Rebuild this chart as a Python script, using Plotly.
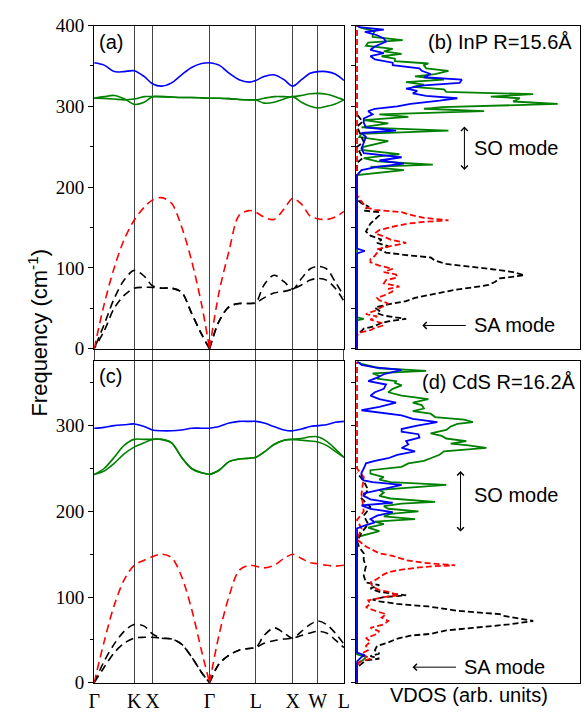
import plotly.graph_objects as go

W, H = 587, 717

# high-symmetry path (relative distance along the path)
K_PTS = [0, 0.160, 0.233, 0.462, 0.647, 0.795, 0.895, 1.0]
K_LABELS = ["Γ", "K", "X", "Γ", "L", "X", "W", "L"]
K_GRID = [0, 0.04, 0.08, 0.12, 0.16, 0.2, 0.233, 0.27, 0.31, 0.35, 0.39, 0.43, 0.462,
          0.50, 0.54, 0.58, 0.62, 0.647, 0.68, 0.72, 0.76, 0.795, 0.83, 0.865, 0.895,
          0.93, 0.965, 1.0]

# (a) InP dispersion, cm^-1
A_BLUE = [354, 351, 343, 343, 344, 337, 328, 325, 329, 339, 348, 353, 354,
          351, 341, 333, 330, 332, 337, 339, 333, 325, 333, 341, 343, 343, 340, 332]
A_GREEN1 = [310, 312, 313.5, 309.5, 302.5, 305, 312, 312, 311.5, 311, 311, 310.5, 310,
            310, 309.5, 308.5, 308, 308, 310, 312, 312, 312, 313.5, 315.5, 316, 315, 312, 308]
A_GREEN2 = [310, 309.8, 309, 308, 309, 312, 312, 312, 311.5, 311, 311, 310.5, 310,
            310, 309.5, 308.5, 308, 308, 304, 305, 309, 312, 305, 300, 298, 300, 303, 308]
A_RED = [0, 55, 100, 135, 159, 175, 184, 187, 180, 151, 109, 55, 0,
         70, 121, 165, 171, 169, 163, 160, 173, 186, 179, 164, 161, 160, 163, 170]
A_BLACK1 = [0, 30, 62, 85, 97, 90, 78, 75, 75, 70, 44, 18, 0,
            34, 52, 56, 56, 57, 79, 91, 83, 74, 87, 99, 102, 99, 83, 65]
A_BLACK2 = [0, 22, 50, 66, 75, 76, 76, 75, 75, 70, 44, 18, 0,
            34, 52, 56, 56, 57, 63, 69, 71, 74, 79, 85, 87, 85, 75, 59]

# (c) CdS dispersion, cm^-1
C_BLUE = [297, 298, 300, 301, 302, 299, 295, 294, 294, 295, 297, 297, 297,
          299, 303, 305, 305, 305, 303, 299, 295, 294, 296, 299, 300, 301, 304, 305]
C_GREEN1 = [243, 250, 263, 277, 284, 284, 284, 284, 280, 263, 250, 245, 243,
            248, 258, 261, 262, 263, 269, 278, 283, 284, 285, 287, 287, 282, 273, 263]
C_GREEN2 = [243, 247, 256, 267, 275, 280, 284, 284, 280, 263, 250, 245, 243,
            248, 258, 261, 262, 263, 269, 278, 283, 284, 283, 282, 281, 277, 270, 263]
C_RED = [0, 48, 90, 120, 137, 143, 147, 150, 146, 124, 86, 37, 0,
         56, 101, 131, 137, 136, 134, 137, 145, 150, 145, 140, 139, 137, 136, 137]
C_BLACK1 = [0, 25, 45, 60, 68, 66, 57, 52, 51, 45, 30, 12, 0,
            22, 32, 38, 40, 41, 55, 64, 58, 52, 60, 68, 72, 68, 58, 45]
C_BLACK2 = [0, 18, 35, 46, 52, 53, 53, 52, 51, 45, 30, 12, 0,
            22, 32, 38, 40, 41, 46, 49, 51, 52, 55, 58, 60, 58, 50, 41]

# (b) InP VDOS (arb. units)
B_GREEN_F = [0, 35, 37, 39, 215, 221, 225, 228, 232, 236, 241, 246, 250, 257, 262, 266, 270, 274,
             279, 283, 287, 290, 294, 297, 299, 303, 306, 310, 312, 315, 318, 321, 324, 327, 330,
             333, 337, 340, 344, 347, 351, 353, 356, 359, 362, 365, 368, 371, 375, 379, 382, 386,
             389, 393, 397, 400]
B_GREEN_D = [0, 0, 0.03, 0, 0, 0.21, 0.06, 0.34, 0.09, 0.03, 0.19, 0.02, 0.03, 0.14, 0.01, 0.02,
             0.41, 0.02, 0.14, 0.03, 0.23, 0.10, 0.57, 0.30, 0.38, 0.90, 0.70, 0.73, 0.60, 0.79,
             0.40, 0.39, 0.25, 0.30, 0.22, 0.39, 0.26, 0.35, 0.41, 0.31, 0.30, 0.32, 0.17, 0.17,
             0.11, 0.20, 0.12, 0.16, 0.04, 0.05, 0.205, 0.07, 0.07, 0.08, 0.02, 0]
B_BLUE_F = [0, 118, 121, 124, 215, 221, 225, 229, 233, 237, 242, 248, 255, 262, 267, 270, 274,
            280, 285, 290, 294, 297, 300, 303, 307, 310, 313, 316, 319, 322, 326, 329, 333, 336,
            340, 344, 347, 351, 354, 358, 362, 366, 370, 374, 380, 384, 388, 392, 395, 398, 400]
B_BLUE_D = [0, 0, 0.035, 0, 0, 0.02, 0.09, 0.21, 0.10, 0.20, 0.03, 0.02, 0.03, 0.04, 0.02,
            0.175, 0.04, 0.03, 0.03, 0.07, 0.05, 0.08, 0.18, 0.24, 0.37, 0.45, 0.31, 0.25, 0.27,
            0.22, 0.30, 0.46, 0.47, 0.30, 0.33, 0.29, 0.28, 0.16, 0.16, 0.08, 0.06, 0.12, 0.06,
            0.08, 0.13, 0.12, 0.09, 0.035, 0.12, 0.01, 0]
B_BLACK_F = [0, 18, 22, 25, 28, 31, 34, 37, 41, 44, 47, 51, 55, 59, 63, 68, 73, 76, 79, 83, 87,
             91, 95, 98, 101, 105, 109, 113, 116, 119, 123, 127, 131, 135, 140, 145, 150, 155,
             160, 165, 169, 171, 176, 180, 185, 230, 236, 250, 256, 275, 281, 290]
B_BLACK_D = [0, 0, 0.02, 0.03, 0.08, 0.10, 0.14, 0.22, 0.12, 0.09, 0.10, 0.08, 0.14, 0.22, 0.26,
             0.35, 0.44, 0.52, 0.59, 0.62, 0.64, 0.75, 0.70, 0.62, 0.52, 0.40, 0.35, 0.33, 0.22,
             0.13, 0.10, 0.14, 0.09, 0.11, 0.06, 0.04, 0.05, 0.06, 0.08, 0.10, 0.10, 0.03, 0.05,
             0.02, 0, 0, 0.025, 0, 0.03, 0, 0.025, 0]
B_RED_F = [0, 16, 20, 23, 26, 29, 32, 36, 40, 43, 47, 52, 56, 60, 63, 67, 71, 74, 77, 81, 85, 88,
           92, 95, 99, 103, 107, 111, 115, 119, 123, 127, 131, 135, 139, 143, 147, 151, 155, 157,
           159, 162, 165, 169, 172, 175, 179, 183, 186, 190, 400]
B_RED_D = [0, 0, 0.01, 0.06, 0.08, 0.12, 0.11, 0.06, 0.09, 0.04, 0.08, 0.11, 0.14, 0.10, 0.09,
           0.13, 0.16, 0.14, 0.19, 0.12, 0.13, 0.18, 0.175, 0.12, 0.16, 0.10, 0.06, 0.06, 0.08,
           0.09, 0.09, 0.15, 0.22, 0.15, 0.12, 0.08, 0.10, 0.16, 0.23, 0.30, 0.41, 0.30, 0.25,
           0.20, 0.08, 0.04, 0.03, 0.02, 0.01, 0, 0]

# (d) CdS VDOS (arb. units)
D_GREEN_F = [0, 22, 27, 30, 33, 170, 177, 181, 185, 188, 191, 194, 197, 200, 203, 206, 209, 211,
             215, 218, 222, 225, 228, 231, 234, 237, 240, 244, 248, 252, 256, 259, 262, 266, 270,
             274, 277, 279, 282, 285, 288, 291, 295, 299, 302, 304, 307, 310, 314, 317, 320, 324,
             327, 331, 335, 339, 343, 347, 350, 352, 355, 358, 361, 364, 367, 369, 372, 375]
D_GREEN_D = [0, 0, 0.03, 0.04, 0, 0, 0.10, 0.05, 0.12, 0.08, 0.26, 0.12, 0.15, 0.275, 0.14, 0.12,
             0.20, 0.35, 0.15, 0.10, 0.12, 0.10, 0.25, 0.40, 0.15, 0.10, 0.12, 0.06, 0.06, 0.20,
             0.23, 0.30, 0.33, 0.37, 0.39, 0.58, 0.50, 0.42, 0.49, 0.40, 0.38, 0.33, 0.40, 0.42,
             0.45, 0.52, 0.48, 0.35, 0.33, 0.25, 0.30, 0.29, 0.25, 0.32, 0.20, 0.14, 0.16, 0.20,
             0.17, 0.175, 0.09, 0.10, 0.07, 0.31, 0.10, 0.07, 0.02, 0]
D_BLUE_F = [0, 25, 30, 32, 35, 180, 183, 187, 191, 195, 199, 203, 207, 210, 214, 218, 221, 225,
            228, 231, 234, 236, 240, 245, 250, 256, 259, 262, 266, 270, 274, 278, 282, 286, 290,
            293, 296, 300, 304, 308, 312, 315, 318, 322, 327, 331, 335, 339, 343, 348, 352, 356,
            360, 365, 368, 371, 375]
D_BLUE_D = [0, 0, 0.02, 0.035, 0, 0, 0.03, 0.08, 0.06, 0.09, 0.16, 0.06, 0.02, 0.16, 0.06, 0.03,
            0.03, 0.10, 0.14, 0.20, 0.07, 0.03, 0.02, 0.02, 0.03, 0.04, 0.08, 0.14, 0.18, 0.26,
            0.20, 0.23, 0.22, 0.28, 0.275, 0.20, 0.20, 0.27, 0.36, 0.25, 0.20, 0.10, 0.02, 0.10,
            0.175, 0.10, 0.06, 0.08, 0.12, 0.13, 0.05, 0.09, 0.12, 0.20, 0.08, 0.02, 0]
D_RED_F = [0, 20, 24, 28, 34, 38, 43, 48, 52, 56, 60, 64, 68, 72, 76, 80, 84, 88, 92, 96, 100,
           102, 106, 108, 112, 117, 121, 125, 129, 132, 134, 136, 137, 140, 143, 146, 148, 151,
           155, 159, 163, 167, 180, 190, 200, 220, 240, 250, 375]
D_RED_D = [0, 0, 0.01, 0.06, 0.02, 0.05, 0.04, 0.06, 0.04, 0.08, 0.10, 0.06, 0.12, 0.14, 0.11,
           0.13, 0.08, 0.04, 0.06, 0.05, 0.12, 0.19, 0.14, 0.10, 0.07, 0.06, 0.09, 0.11, 0.14,
           0.20, 0.26, 0.35, 0.44, 0.30, 0.22, 0.18, 0.16, 0.10, 0.07, 0.04, 0.02, 0, 0.02, 0,
           0.03, 0.02, 0.03, 0, 0]
D_BLACK_F = [0, 18, 22, 26, 28, 31, 34, 38, 43, 47, 51, 55, 57, 61, 64, 68, 72, 75, 78, 80, 84,
             89, 92, 95, 97, 100, 102, 106, 110, 114, 117, 125, 136, 143, 151, 158, 165, 175, 185,
             195, 205, 215, 225, 235, 245]
D_BLACK_D = [0, 0, 0.02, 0.04, 0.10, 0.06, 0.10, 0.08, 0.09, 0.14, 0.175, 0.24, 0.33, 0.40, 0.52,
             0.68, 0.79, 0.72, 0.66, 0.64, 0.45, 0.32, 0.18, 0.10, 0.07, 0.12, 0.22, 0.10, 0.06,
             0.10, 0.04, 0.03, 0.04, 0.03, 0.03, 0.01, 0, 0.02, 0.05, 0.03, 0.06, 0.02, 0.05, 0.03, 0]

BLUE, GREEN, RED, BLACK = "#0000ff", "#008000", "#ff0000", "#000000"
SERIF = "Liberation Serif"
SANS = "Liberation Sans"


def px(x):
    return x / W


def py(y):
    return 1 - y / H


fig = go.Figure()


def add_branch(f, xa, ya, color, dash, reverse_first=False):
    # split at the zone-centre cusp so the spline keeps the V shape
    g = K_GRID.index(0.462)
    segs = [(K_GRID[:g + 1], f[:g + 1]), (K_GRID[g:], f[g:])]
    for i, (k, v) in enumerate(segs):
        if reverse_first and i == 0:
            k, v = k[::-1], v[::-1]
        fig.add_trace(go.Scatter(
            x=k, y=v, mode="lines", xaxis=xa, yaxis=ya, showlegend=False, hoverinfo="skip",
            line=dict(color=color, width=1.6, dash=dash, shape="spline", smoothing=0.9)))


def add_vdos(f, d, xa, ya, color, dash):
    fig.add_trace(go.Scatter(
        x=d, y=f, mode="lines", xaxis=xa, yaxis=ya, showlegend=False, hoverinfo="skip",
        line=dict(color=color, width=1.8, dash=dash)))


DASH = "8px,5px"
# panel (a)
add_branch(A_BLACK1, "x", "y", BLACK, DASH, True)
add_branch(A_BLACK2, "x", "y", BLACK, DASH, True)
add_branch(A_RED, "x", "y", RED, DASH)
add_branch(A_GREEN1, "x", "y", GREEN, "solid")
add_branch(A_GREEN2, "x", "y", GREEN, "solid")
add_branch(A_BLUE, "x", "y", BLUE, "solid")
# panel (c)
add_branch(C_BLACK1, "x3", "y3", BLACK, DASH)
add_branch(C_BLACK2, "x3", "y3", BLACK, DASH)
add_branch(C_RED, "x3", "y3", RED, DASH)
add_branch(C_GREEN1, "x3", "y3", GREEN, "solid")
add_branch(C_GREEN2, "x3", "y3", GREEN, "solid")
add_branch(C_BLUE, "x3", "y3", BLUE, "solid")

VDASH = "6px,3px"
add_vdos(B_GREEN_F, B_GREEN_D, "x2", "y2", GREEN, "solid")
add_vdos(B_BLACK_F, B_BLACK_D, "x2", "y2", BLACK, VDASH)
add_vdos(B_RED_F, B_RED_D, "x2", "y2", RED, VDASH)
add_vdos(B_BLUE_F, B_BLUE_D, "x2", "y2", BLUE, "solid")
add_vdos(D_GREEN_F, D_GREEN_D, "x4", "y4", GREEN, "solid")
add_vdos(D_BLACK_F, D_BLACK_D, "x4", "y4", BLACK, VDASH)
add_vdos(D_RED_F, D_RED_D, "x4", "y4", RED, VDASH)
add_vdos(D_BLUE_F, D_BLUE_D, "x4", "y4", BLUE, "solid")

frame = dict(showline=True, mirror=True, linecolor="black", linewidth=1, zeroline=False)
xl, xr = [px(90), px(345)], [px(357), px(586)]
yt, yb = [py(349), py(16)], [py(693), py(362)]


def disp_x(dom, anchor, labels):
    ax = dict(domain=dom, anchor=anchor, range=[0, 1], tickvals=K_PTS, showgrid=True,
              gridcolor="#444444", gridwidth=1, **frame)
    if labels:
        ax.update(ticktext=K_LABELS, ticks="", tickfont=dict(family=SERIF, size=20, color="black"))
    else:
        ax.update(ticks="outside", ticklen=10, tickcolor="#444444", showticklabels=False)
    return ax


def freq_y(dom, anchor, top, labels):
    return dict(domain=dom, anchor=anchor, range=[0, top], tickmode="linear", tick0=0,
                dtick=100 if labels else 50, ticks="outside", ticklen=5 if labels else 4,
                tickcolor="black", showticklabels=labels, showgrid=False,
                tickfont=dict(family=SERIF, size=19, color="black"),
                minor=dict(dtick=50, ticks="outside", ticklen=3, tickcolor="black") if labels else None,
                **frame)


def vdos_x(dom, anchor):
    return dict(domain=dom, anchor=anchor, range=[-0.006, 1], showticklabels=False,
                ticks="", showgrid=False, **frame)


fig.update_layout(
    width=W, height=H, margin=dict(l=0, r=0, t=0, b=0),
    paper_bgcolor="white", plot_bgcolor="white", showlegend=False,
    xaxis=disp_x(xl, "y", False), yaxis=freq_y(yt, "x", 400, True),
    xaxis2=vdos_x(xr, "y2"), yaxis2=freq_y(yt, "x2", 400, False),
    xaxis3=disp_x(xl, "y3", True), yaxis3=freq_y(yb, "x3", 375, True),
    xaxis4=vdos_x(xr, "y4"), yaxis4=freq_y(yb, "x4", 375, False),
)

font = dict(family=SANS, size=20, color="black")
notes = [
    dict(x=px(93), y=py(33), text="(a)", xanchor="left"),
    dict(x=px(93), y=py(377), text="(c)", xanchor="left"),
    dict(x=px(580), y=py(33), text="(b) InP R=15.6Å", xanchor="right"),
    dict(x=px(584), y=py(383), text="(d) CdS R=16.2Å", xanchor="right"),
    dict(x=px(476), y=py(142), text="SO mode", xanchor="left"),
    dict(x=px(476), y=py(325), text="SA mode", xanchor="left"),
    dict(x=px(476), y=py(500), text="SO mode", xanchor="left"),
    dict(x=px(466), y=py(677), text="SA mode", xanchor="left"),
    dict(x=px(473), y=py(706), text="VDOS (arb. units)", xanchor="center"),
    dict(x=px(33), y=py(332), text="Frequency (cm<sup>-1</sup>)", xanchor="center",
         textangle=-90, font=dict(family=SANS, size=22, color="black")),
]
for n in notes:
    n.setdefault("font", font)
    fig.add_annotation(xref="paper", yref="paper", yanchor="middle", showarrow=False, **n)

# arrows: (head x, head y, tail x, tail y, both ends)
arrows = [(468, 120, 468, 165, True), (425, 325, 470, 325, False),
          (464, 475, 464, 537, True), (415, 677, 460, 677, False)]
for hx, hy, tx, ty, both in arrows:
    fig.add_annotation(xref="paper", yref="paper", x=px(hx), y=py(hy), ax=tx - hx, ay=ty - hy,
                       text="", showarrow=True, arrowhead=4, arrowsize=1.3, arrowwidth=1,
                       arrowcolor="black", arrowside="end+start" if both else "end")

# drop the default page margin so the figure sits at the window's corner
fig.write_html("out.html", config={"displayModeBar": False},
               post_script="document.body.style.margin='0';"
                           "document.documentElement.style.overflow='hidden';")
